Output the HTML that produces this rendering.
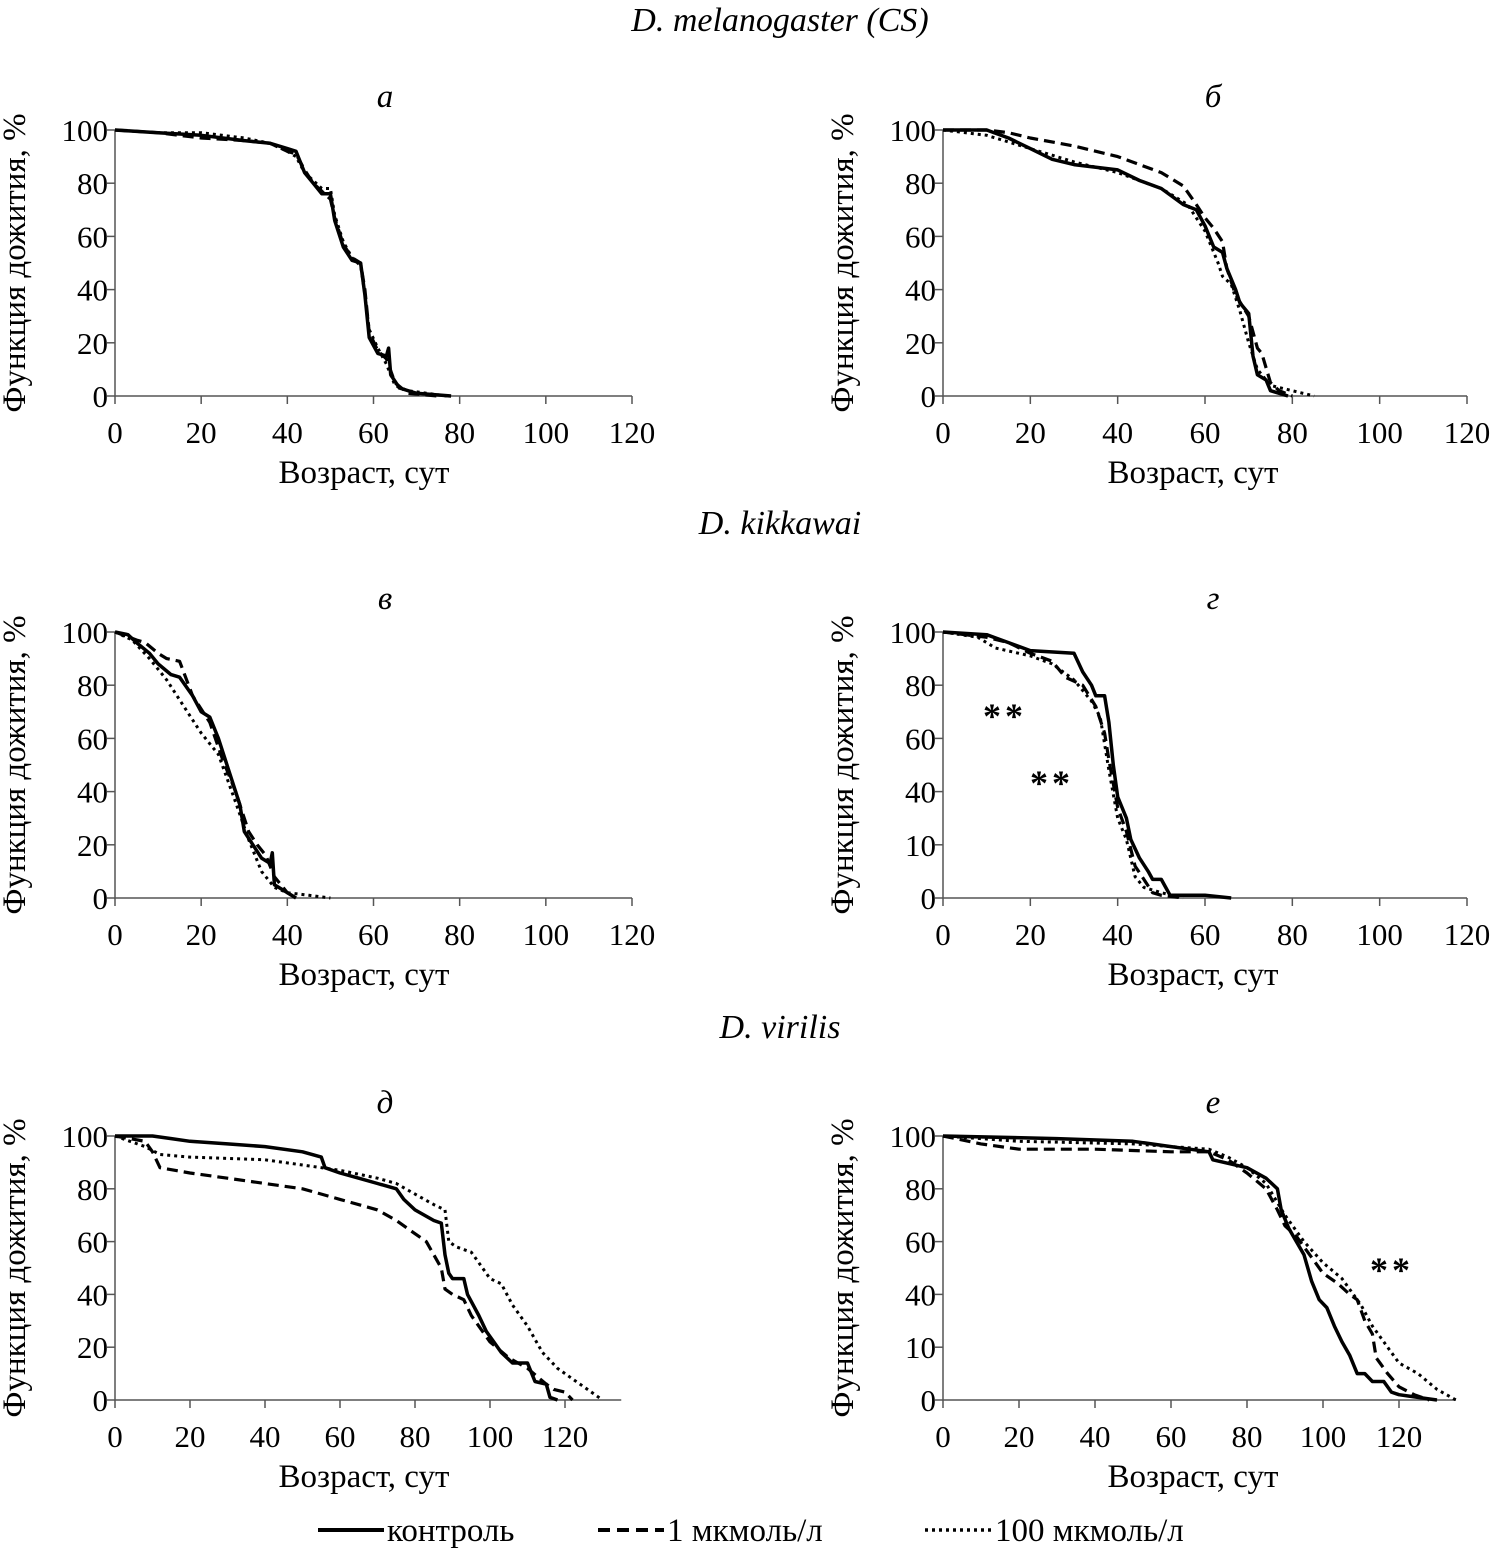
<!DOCTYPE html>
<html><head><meta charset="utf-8">
<style>
body{margin:0;background:#fff;}
svg{display:block;font-family:"Liberation Serif",serif;}
</style></head>
<body>
<svg id="fig" width="1497" height="1557" viewBox="0 0 1497 1557">
<text x="780" y="31" font-size="34" font-style="italic" text-anchor="middle">D. melanogaster (CS)</text>
<text x="780" y="534" font-size="34" font-style="italic" text-anchor="middle">D. kikkawai</text>
<text x="780" y="1038" font-size="34" font-style="italic" text-anchor="middle">D. virilis</text>
<g>
<line x1="318" y1="1530" x2="384" y2="1530" stroke="#000" stroke-width="4"/>
<text x="387" y="1541" font-size="33">контроль</text>
<line x1="598" y1="1530" x2="664" y2="1530" stroke="#000" stroke-width="4" stroke-dasharray="12,7"/>
<text x="667" y="1541" font-size="33">1 мкмоль/л</text>
<line x1="925" y1="1530" x2="992" y2="1530" stroke="#000" stroke-width="3.5" stroke-dasharray="3,4"/>
<text x="995" y="1541" font-size="33">100 мкмоль/л</text>
</g>
</svg>
<script>
const xTickValues=[0,20,40,60,80,100,120];
const yTicksStd=["0","20","40","60","80","100"];
const yTicksAlt=["0","10","40","60","80","100"];
const panelLetters=["а","б","в","г","д","е"];

const aCtrl=[[0,100],[10,99],[20,98],[30,96],[36,95],[40,93],[42,92],[44,84],[46,80],[48,76],[50,76],[51,66],[53,56],[55,51],[57,50],[58,38],[59,22],[61,16],[63,15],[63.5,18],[64,8],[66,3],[70,1],[78,0]];
const aD1=[[0,100],[10,99],[20,97],[30,96],[36,95],[40,92],[42,91],[44,85],[46,80],[48,77],[50,74],[51,67],[53,57],[55,52],[57,50],[58,40],[59,24],[61,17],[63,14],[65,5],[68,1],[75,0]];
const aD100=[[0,100],[10,99],[20,99],[30,97],[36,95],[40,92],[42,90],[44,84],[46,81],[48,78],[50,78],[51,68],[53,58],[55,52],[57,49],[58,38],[59,25],[61,18],[63,12],[65,4],[68,2],[77,0]];

const bCtrl=[[0,100],[10,100],[15,97],[20,93],[25,89],[30,87],[40,85],[45,81],[50,78],[55,72],[58,70],[60,64],[62,56],[64,54],[65,48],[67,40],[68,35],[70,31],[71,15],[72,8],[74,6],[75,2],[77,1],[79,0]];
const bD1=[[0,100],[10,100],[15,99],[20,97],[30,94],[40,90],[45,87],[50,84],[55,79],[58,72],[60,67],[62,63],[64,58],[65,48],[67,38],[70,30],[72,18],[73,16],[75,5],[77,2],[80,0]];
const bD100=[[0,100],[10,98],[20,93],[30,88],[40,84],[50,78],[56,72],[60,62],[63,50],[64,45],[66,42],[68,32],[70,20],[72,10],[75,4],[80,2],[85,0]];

const vCtrl=[[0,100],[3,99],[5,96],[8,92],[10,88],[13,84],[15,83],[18,76],[20,70],[22,68],[24,60],[26,50],[28,40],[29,35],[30,25],[32,20],[34,15],[36,13],[36.5,17],[37,5],[39,3],[42,0]];
const vD1=[[0,100],[5,97],[7,96],[10,92],[12,90],[15,89],[18,76],[22,66],[25,52],[28,40],[31,25],[33,20],[35,16],[37,8],[40,2],[42,0]];
const vD100=[[0,100],[4,97],[8,90],[12,82],[16,72],[20,62],[24,54],[28,36],[31,22],[34,10],[37,4],[40,2],[45,1],[50,0]];

const gCtrl=[[0,100],[10,99],[15,96],[20,93],[30,92],[32,85],[34,80],[35,76],[37,76],[38,66],[39,50],[40,38],[42,30],[43,22],[45,15],[47,10],[48,7],[50,7],[51,4],[52,1],[55,1],[60,1],[66,0]];
const gD1=[[0,100],[10,98],[15,96],[20,92],[25,89],[28,83],[32,80],[35,72],[37,62],[38,52],[40,34],[42,25],[44,12],[46,7],[48,2],[50,1],[55,0]];
const gD100=[[0,100],[8,98],[12,94],[20,91],[25,88],[30,82],[34,74],[36,68],[38,48],[40,30],[42,22],[44,8],[46,4],[50,2],[55,0]];

const dCtrl=[[0,100],[10,100],[15,99],[20,98],[30,97],[40,96],[50,94],[55,92],[56,88],[60,86],[65,84],[70,82],[75,80],[77,76],[80,72],[85,68],[87,67],[88,55],[89,48],[90,46],[93,46],[94,40],[97,32],[99,26],[101,22],[103,18],[106,14],[110,14],[112,7],[115,6],[116,1],[118,0]];
const dD1=[[0,100],[8,98],[10,94],[12,88],[20,86],[30,84],[40,82],[50,80],[60,76],[70,72],[75,68],[80,63],[83,60],[85,55],[87,50],[88,42],[90,40],[93,38],[95,32],[97,28],[100,22],[105,16],[110,12],[115,6],[117,4],[120,3],[122,0]];
const dD100=[[0,100],[8,96],[12,93],[20,92],[40,91],[50,89],[60,87],[70,84],[75,82],[80,78],[85,74],[88,72],[89,60],[91,58],[95,56],[97,52],[100,46],[103,44],[106,36],[110,28],[114,18],[118,12],[122,8],[126,4],[130,0]];

const eCtrl=[[0,100],[30,99],[50,98],[60,96],[65,95],[70,94],[71,91],[80,88],[85,84],[88,80],[89,72],[91,65],[93,60],[95,55],[97,45],[99,38],[101,35],[103,28],[105,22],[107,17],[109,10],[111,10],[113,7],[116,7],[118,3],[120,2],[125,1],[130,0]];
const eD1=[[0,100],[10,97],[20,95],[40,95],[60,94],[70,94],[75,91],[80,86],[85,80],[88,72],[90,66],[93,62],[95,58],[98,52],[100,48],[104,44],[107,40],[109,38],[111,30],[113,25],[114,16],[115,14],[117,10],[120,5],[124,2],[128,0]];
const eD100=[[0,100],[20,98],[50,97],[70,95],[75,92],[80,88],[85,82],[90,70],[95,60],[100,52],[105,46],[110,36],[113,28],[116,22],[120,14],[125,10],[130,4],[135,0]];

const panels=[
 {x0:115,sc:517/120,xmax:120,y100:130,y0:396,yt:yTicksStd,series:[aCtrl,aD1,aD100],stars:[]},
 {x0:943,sc:524/120,xmax:120,y100:130,y0:396,yt:yTicksStd,series:[bCtrl,bD1,bD100],stars:[]},
 {x0:115,sc:517/120,xmax:120,y100:632,y0:898,yt:yTicksStd,series:[vCtrl,vD1,vD100],stars:[]},
 {x0:943,sc:524/120,xmax:120,y100:632,y0:898,yt:yTicksAlt,series:[gCtrl,gD1,gD100],stars:[[1005,728],[1052,795]]},
 {x0:115,sc:3.75,xmax:135,y100:1136,y0:1400,yt:yTicksStd,series:[dCtrl,dD1,dD100],stars:[]},
 {x0:943,sc:3.8,xmax:135,y100:1136,y0:1400,yt:yTicksAlt,series:[eCtrl,eD1,eD100],stars:[[1392,1282]]}
];
const styles=[{w:3.5,d:""},{w:3.2,d:"11,6"},{w:3,d:"3,4"}];
const names=["control","1-umol","100-umol"];
const NS="http://www.w3.org/2000/svg";
const svg=document.getElementById('fig');
function mk(t,a,p){const e=document.createElementNS(NS,t);for(const k in a)e.setAttribute(k,a[k]);(p||svg).appendChild(e);return e;}
panels.forEach((P,i)=>{
 const g=mk('g',{});
 
 
 const X=v=>P.x0+v*P.sc, Y=v=>P.y0-(v/100)*(P.y0-P.y100);
 const xEnd=X(P.xmax);
 const ax=mk('path',{d:`M${P.x0} ${P.y100}V${P.y0}H${xEnd}`,stroke:'#555',fill:'none','stroke-width':1.5},g);
 
 
 xTickValues.forEach(v=>{
  mk('line',{x1:X(v),x2:X(v),y1:P.y0,y2:P.y0+8,stroke:'#555','stroke-width':1.5},g);
  const t=mk('text',{x:X(v),y:P.y0+47,'font-size':31,'text-anchor':'middle'},g);t.textContent=v;
  
  
 });
 P.yt.forEach((lab,k)=>{
  const y=Y(k*20);
  mk('line',{x1:P.x0-8,x2:P.x0,y1:y,y2:y,stroke:'#555','stroke-width':1.5},g);
  const t=mk('text',{x:P.x0-7,y:y+11,'font-size':31,'text-anchor':'end'},g);t.textContent=lab;
  
  
 });
 const cx=(i%2?1193:364);
 const xt=mk('text',{x:cx,y:P.y0+87,'font-size':33,'text-anchor':'middle'},g);xt.textContent='Возраст, сут';
 
 
 const ym=(P.y0+P.y100)/2, yx=P.x0-90;
 const yt=mk('text',{x:yx,y:ym,'font-size':33,'text-anchor':'middle',transform:`rotate(-90 ${yx} ${ym})`},g);yt.textContent='Функция дожития, %';
 
 
 const lt=mk('text',{x:(i%2?1213:385),y:P.y100-23,'font-size':33,'font-style':'italic','text-anchor':'middle'},g);lt.textContent=panelLetters[i];
 
 
 P.series.forEach((s,j)=>{
  let d='';
  s.forEach((p,k)=>{d+=(k?'L':'M')+X(p[0]).toFixed(1)+' '+Y(p[1]).toFixed(1);});
  const pa=mk('path',{d:d,fill:'none',stroke:'#000','stroke-width':styles[j].w,'stroke-dasharray':styles[j].d,'stroke-linejoin':'round'},g);
  
  
 });
 P.stars.forEach(s=>{
  const t=mk('text',{x:s[0],y:s[1],'font-size':36,'font-weight':'bold','text-anchor':'middle','letter-spacing':4},g);t.textContent='**';
  
  
 });
});
</script>
</body></html>
